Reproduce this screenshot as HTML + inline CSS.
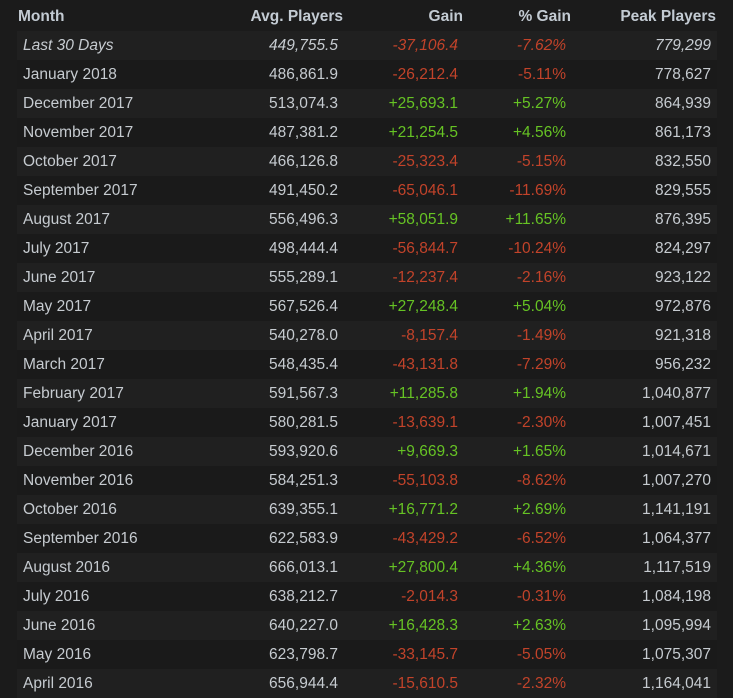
<!DOCTYPE html>
<html><head><style>
html,body{margin:0;padding:0;background:#1b1b1b;width:733px;height:694px;overflow:hidden}
table{position:absolute;left:17px;top:2px;width:700px;border-collapse:collapse;font-family:"Liberation Sans",sans-serif;font-size:15.5px;color:#c6cbd0}
th{height:29px;font-weight:bold;color:#c3cbd3;text-align:right;padding:0 1px 0 0;font-size:15.5px}
th:first-child{text-align:left;padding-left:1px}
td{height:29px;padding:0 6px 0 0;text-align:right;white-space:nowrap}
td:first-child{text-align:left;padding-left:6px}
tbody tr:nth-child(odd){background:#202020}
tbody tr:nth-child(even){background:#1a1a1a}
.r{color:#c2432a}.g{color:#66c324}
tr.i td{font-style:italic}
</style></head><body>
<table>
<colgroup><col style="width:180px"><col style="width:147px"><col style="width:120px"><col style="width:108px"><col style="width:145px"></colgroup>
<thead><tr><th>Month</th><th>Avg. Players</th><th>Gain</th><th>% Gain</th><th>Peak Players</th></tr></thead>
<tbody>
<tr class="i"><td>Last 30 Days</td><td>449,755.5</td><td class="r">-37,106.4</td><td class="r">-7.62%</td><td>779,299</td></tr>
<tr><td>January 2018</td><td>486,861.9</td><td class="r">-26,212.4</td><td class="r">-5.11%</td><td>778,627</td></tr>
<tr><td>December 2017</td><td>513,074.3</td><td class="g">+25,693.1</td><td class="g">+5.27%</td><td>864,939</td></tr>
<tr><td>November 2017</td><td>487,381.2</td><td class="g">+21,254.5</td><td class="g">+4.56%</td><td>861,173</td></tr>
<tr><td>October 2017</td><td>466,126.8</td><td class="r">-25,323.4</td><td class="r">-5.15%</td><td>832,550</td></tr>
<tr><td>September 2017</td><td>491,450.2</td><td class="r">-65,046.1</td><td class="r">-11.69%</td><td>829,555</td></tr>
<tr><td>August 2017</td><td>556,496.3</td><td class="g">+58,051.9</td><td class="g">+11.65%</td><td>876,395</td></tr>
<tr><td>July 2017</td><td>498,444.4</td><td class="r">-56,844.7</td><td class="r">-10.24%</td><td>824,297</td></tr>
<tr><td>June 2017</td><td>555,289.1</td><td class="r">-12,237.4</td><td class="r">-2.16%</td><td>923,122</td></tr>
<tr><td>May 2017</td><td>567,526.4</td><td class="g">+27,248.4</td><td class="g">+5.04%</td><td>972,876</td></tr>
<tr><td>April 2017</td><td>540,278.0</td><td class="r">-8,157.4</td><td class="r">-1.49%</td><td>921,318</td></tr>
<tr><td>March 2017</td><td>548,435.4</td><td class="r">-43,131.8</td><td class="r">-7.29%</td><td>956,232</td></tr>
<tr><td>February 2017</td><td>591,567.3</td><td class="g">+11,285.8</td><td class="g">+1.94%</td><td>1,040,877</td></tr>
<tr><td>January 2017</td><td>580,281.5</td><td class="r">-13,639.1</td><td class="r">-2.30%</td><td>1,007,451</td></tr>
<tr><td>December 2016</td><td>593,920.6</td><td class="g">+9,669.3</td><td class="g">+1.65%</td><td>1,014,671</td></tr>
<tr><td>November 2016</td><td>584,251.3</td><td class="r">-55,103.8</td><td class="r">-8.62%</td><td>1,007,270</td></tr>
<tr><td>October 2016</td><td>639,355.1</td><td class="g">+16,771.2</td><td class="g">+2.69%</td><td>1,141,191</td></tr>
<tr><td>September 2016</td><td>622,583.9</td><td class="r">-43,429.2</td><td class="r">-6.52%</td><td>1,064,377</td></tr>
<tr><td>August 2016</td><td>666,013.1</td><td class="g">+27,800.4</td><td class="g">+4.36%</td><td>1,117,519</td></tr>
<tr><td>July 2016</td><td>638,212.7</td><td class="r">-2,014.3</td><td class="r">-0.31%</td><td>1,084,198</td></tr>
<tr><td>June 2016</td><td>640,227.0</td><td class="g">+16,428.3</td><td class="g">+2.63%</td><td>1,095,994</td></tr>
<tr><td>May 2016</td><td>623,798.7</td><td class="r">-33,145.7</td><td class="r">-5.05%</td><td>1,075,307</td></tr>
<tr><td>April 2016</td><td>656,944.4</td><td class="r">-15,610.5</td><td class="r">-2.32%</td><td>1,164,041</td></tr>
</tbody></table>
</body></html>
